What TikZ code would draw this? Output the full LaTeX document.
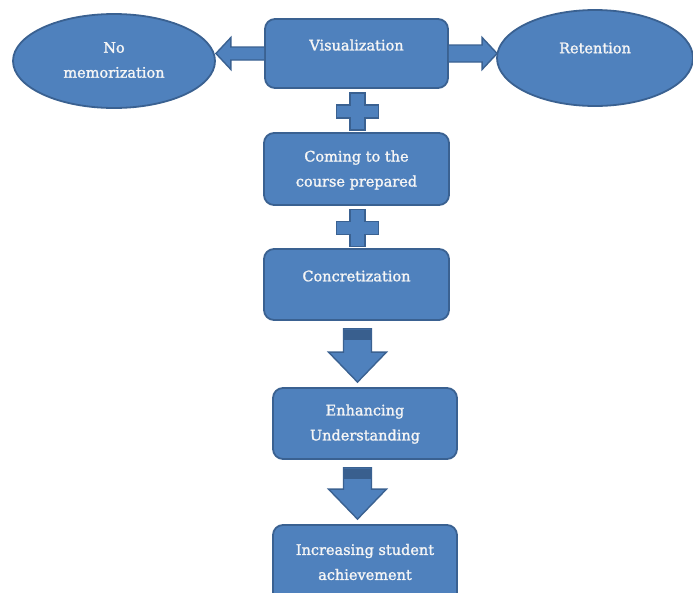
\documentclass[tikz,border=0pt]{standalone}
\usepackage{fontspec}
\setmainfont{DejaVu Serif}
\newfontface\labfont{DejaVu Serif}[RawFeature={embolden=1.5}]
\usetikzlibrary{calc,shapes.geometric}
\definecolor{bfill}{HTML}{4F81BD}
\definecolor{bline}{HTML}{3A6191}
\definecolor{bdark}{HTML}{395F8E}
\tikzset{
  box/.style={draw=bline, line width=1.8pt, fill=bfill, rounded corners=10pt, inner sep=0pt},
  oval/.style={draw=bline, line width=1.8pt, fill=bfill, ellipse, inner sep=0pt},
  txt/.style={text=white!96!black, font=\labfont\fontsize{14.5}{25}\selectfont, align=center, inner sep=0pt},
  blk/.style={draw=bline, line width=1.4pt, fill=bfill, line join=miter},
  blkdark/.style={fill=bdark, draw=none}
}
\begin{document}
\begin{tikzpicture}[x=1pt,y=-1pt]
\useasboundingbox (0,0) rectangle (693,592);
% shapes
\node[oval, minimum width=202, minimum height=94] (nomem) at (114,61) {};
\node[oval, minimum width=196, minimum height=96] (ret) at (595,58) {};
\node[box, minimum width=183, minimum height=69] (vis) at (356.5,53.5) {};
\node[box, minimum width=185, minimum height=72] (come) at (356.5,169) {};
\node[box, minimum width=185, minimum height=71] (conc) at (356.5,284.5) {};
\node[box, minimum width=184, minimum height=71] (enh) at (365,423.5) {};
\node[box, minimum width=184, minimum height=84] (inc) at (365,567) {};
% texts
\node[txt] (tnomem) at (114,60) {No\\memorization};
\node[txt] (tret) at (595,48) {Retention};
\node[txt] (tvis) at (356.5,45) {Visualization};
\node[txt] (tcome) at (356.5,170) {Coming to the\\course prepared};
\node[txt] (tconc) at (356.5,276) {Concretization};
\node[txt] (tenh) at (365,424) {Enhancing\\Understanding};
\node[txt] (tinc) at (365,562) {Increasing student\\achievement};
% left block arrow: vis -> nomem
\coordinate (ltip) at (nomem.east |- vis.west);
\draw[blk] ($(vis.west)+(0,-6.5)$) -- ($(ltip)+(15,-6.5)$) -- ($(ltip)+(15,-16)$) -- (ltip)
  -- ($(ltip)+(15,16)$) -- ($(ltip)+(15,6.5)$) -- ($(vis.west)+(0,6.5)$);
% right block arrow: vis -> ret
\coordinate (rtip) at ($(ret.west |- vis.east)+(1,0)$);
\draw[blk] ($(vis.east)+(0,-8.5)$) -- ($(rtip)+(-15,-8.5)$) -- ($(rtip)+(-15,-16)$) -- (rtip)
  -- ($(rtip)+(-15,16)$) -- ($(rtip)+(-15,8.5)$) -- ($(vis.east)+(0,8.5)$);
% plus signs
\foreach \a/\b/\n in {vis/come/p1, come/conc/p2}{
  \coordinate (\n) at ($(\a.south)!0.5!(\b.north)+(1,1)$);
  \draw[blk] ($(\n)+(-7.5,-18.5)$) -- ($(\n)+(7.5,-18.5)$) -- ($(\n)+(7.5,-6.5)$) -- ($(\n)+(21,-6.5)$)
    -- ($(\n)+(21,6.5)$) -- ($(\n)+(7.5,6.5)$) -- ($(\n)+(7.5,18.5)$) -- ($(\n)+(-7.5,18.5)$)
    -- ($(\n)+(-7.5,6.5)$) -- ($(\n)+(-21,6.5)$) -- ($(\n)+(-21,-6.5)$) -- ($(\n)+(-7.5,-6.5)$) -- cycle;
}
% down block arrows
\foreach \a/\b/\n in {conc/enh/d1, enh/inc/d2}{
  \coordinate (\n t) at ($(conc.south |- \a.south)+(1,8)$);
  \coordinate (\n p) at ($(\n t |- \b.north)+(0,-5)$);
  \draw[blk] ($(\n t)+(-14,0)$) -- ($(\n t)+(14,0)$) -- ($(\n p)+(14,-30)$) -- ($(\n p)+(29,-30)$)
    -- (\n p) -- ($(\n p)+(-29,-30)$) -- ($(\n p)+(-14,-30)$) -- cycle;
  \fill[blkdark] ($(\n t)+(-13.3,0.7)$) rectangle ($(\n t)+(13.3,11)$);
}
\end{tikzpicture}
\end{document}
